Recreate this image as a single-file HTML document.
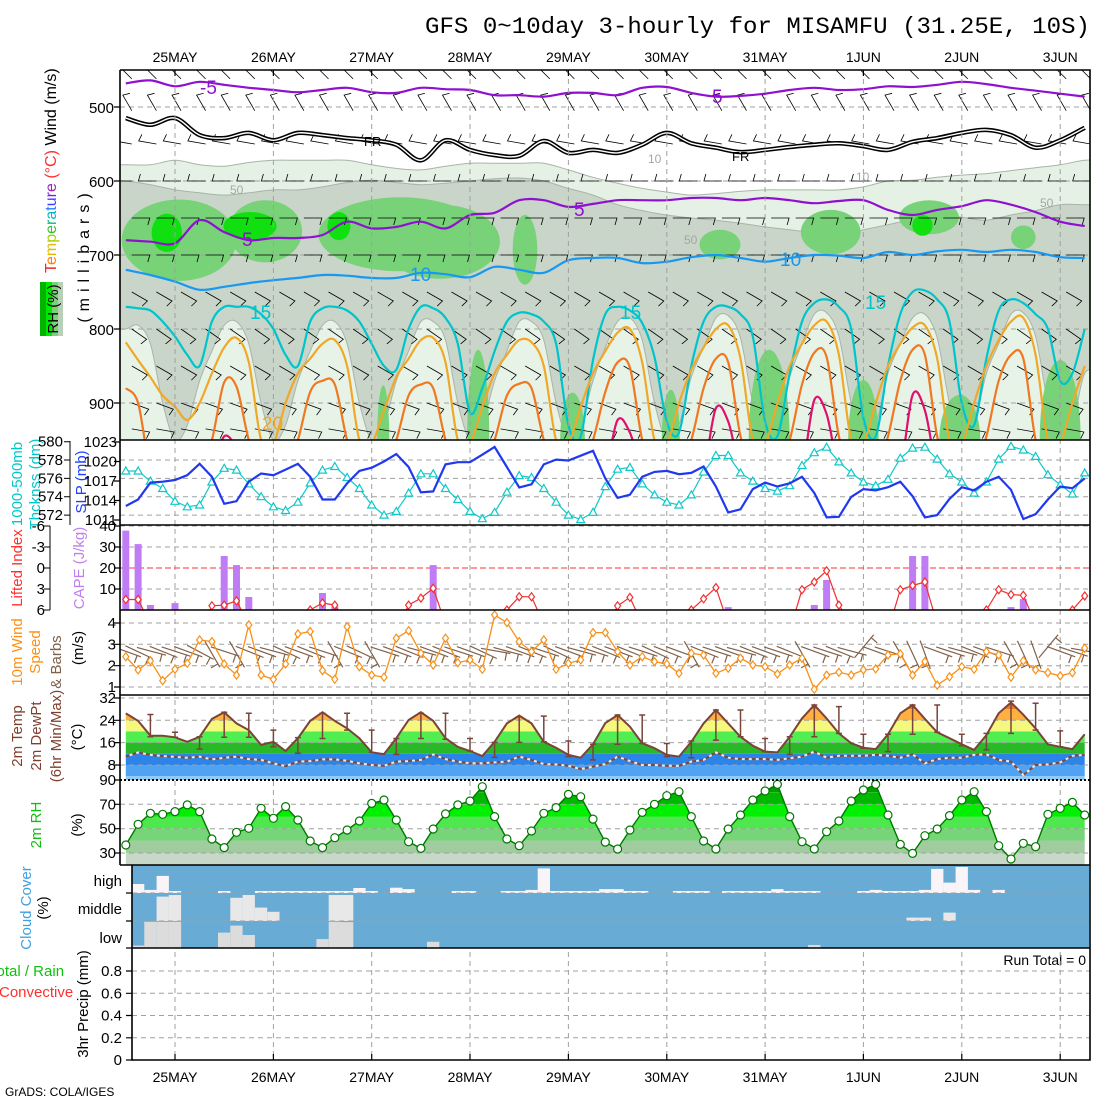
<!DOCTYPE html>
<html><head><meta charset="utf-8">
<style>
body{margin:0;background:#fff;}
svg{display:block;font-family:"Liberation Sans",sans-serif;}
</style></head>
<body>
<svg id="chart" xmlns="http://www.w3.org/2000/svg" width="1100" height="1100" viewBox="0 0 1100 1100">
<rect x="0" y="0" width="1100" height="1100" fill="#ffffff"/>
<defs>
<clipPath id="cTop"><rect x="120" y="70" width="970" height="370"/></clipPath>
<clipPath id="cP2"><rect x="120" y="440" width="970" height="85"/></clipPath>
<clipPath id="cP3"><rect x="120" y="525" width="970" height="85"/></clipPath>
<clipPath id="cP4"><rect x="120" y="610" width="970" height="85"/></clipPath>
<clipPath id="cP5"><rect x="120" y="695" width="970" height="85"/></clipPath>
<clipPath id="cP6"><rect x="120" y="780" width="970" height="85"/></clipPath>
</defs>
<text x="425" y="33" font-family="Liberation Mono, monospace" font-size="23" textLength="665" lengthAdjust="spacingAndGlyphs">GFS 0~10day 3-hourly for MISAMFU (31.25E, 10S)</text>

<text transform="rotate(-90 56 273)" x="56" y="273" font-size="16"><tspan fill="#ff2020">T</tspan><tspan fill="#ff8000">e</tspan><tspan fill="#e8b800">m</tspan><tspan fill="#a8d000">p</tspan><tspan fill="#30c030">e</tspan><tspan fill="#00c080">r</tspan><tspan fill="#00b8c8">a</tspan><tspan fill="#2080ff">t</tspan><tspan fill="#4040ff">u</tspan><tspan fill="#8020e0">r</tspan><tspan fill="#a020c0">e</tspan><tspan fill="#ff3030"> (°C)</tspan><tspan fill="#000"> Wind (m/s)</tspan></text>
<g>
<rect x="40" y="282" width="6" height="54" fill="#00b400"/><rect x="46" y="282" width="6" height="54" fill="#00e800"/><rect x="52" y="282" width="6" height="54" fill="#78d278"/><rect x="58" y="282" width="5" height="54" fill="#b8d0b8"/>
<text transform="rotate(-90 58 309)" x="58" y="309" text-anchor="middle" font-size="15" fill="#000">RH (%)</text>
</g>
<text transform="rotate(-90 89 255)" x="89" y="255" text-anchor="middle" font-size="16" letter-spacing="6">(millibars)</text>
<text transform="rotate(-90 22 484)" x="22" y="484" text-anchor="middle" font-size="15" fill="#00c8c8">1000-500mb</text>
<text transform="rotate(-90 40 484)" x="40" y="484" text-anchor="middle" font-size="15" fill="#00c8c8">Thcknss (dm)</text>
<text transform="rotate(-90 86 482)" x="86" y="482" text-anchor="middle" font-size="15" fill="#2040ff">SLP (mb)</text>
<text transform="rotate(-90 22 568)" x="22" y="568" text-anchor="middle" font-size="15" fill="#ff3030">Lifted Index</text>
<text transform="rotate(-90 84 568)" x="84" y="568" text-anchor="middle" font-size="15" fill="#c080f0">CAPE (J/kg)</text>
<text transform="rotate(-90 22 652)" x="22" y="652" text-anchor="middle" font-size="15" fill="#ff9010">10m Wind</text>
<text transform="rotate(-90 40 652)" x="40" y="652" text-anchor="middle" font-size="15" fill="#ff9010">Speed</text>
<text transform="rotate(-90 61 662)" x="61" y="662" text-anchor="middle" font-size="15" fill="#806048">&amp; Barbs</text>
<text transform="rotate(-90 83 648)" x="83" y="648" text-anchor="middle" font-size="15">(m/s)</text>
<text transform="rotate(-90 22 736)" x="22" y="736" text-anchor="middle" font-size="15" fill="#804030">2m Temp</text>
<text transform="rotate(-90 41 736)" x="41" y="736" text-anchor="middle" font-size="15" fill="#804030">2m DewPt</text>
<text transform="rotate(-90 61 736)" x="61" y="736" text-anchor="middle" font-size="15" fill="#804030">(6hr Min/Max)</text>
<text transform="rotate(-90 82 737)" x="82" y="737" text-anchor="middle" font-size="15">(°C)</text>
<text transform="rotate(-90 41 825)" x="41" y="825" text-anchor="middle" font-size="15" fill="#10c010">2m RH</text>
<text transform="rotate(-90 82 825)" x="82" y="825" text-anchor="middle" font-size="15">(%)</text>
<text transform="rotate(-90 31 908)" x="31" y="908" text-anchor="middle" font-size="15" fill="#40a0e0">Cloud Cover</text>
<text transform="rotate(-90 48 908)" x="48" y="908" text-anchor="middle" font-size="15">(%)</text>
<text x="122" y="886" text-anchor="end" font-size="15">high</text>
<text x="122" y="914" text-anchor="end" font-size="15">middle</text>
<text x="122" y="943" text-anchor="end" font-size="15">low</text>
<text x="-11" y="976" font-size="15" fill="#10c010">Total / Rain</text>
<text x="-1" y="997" font-size="15" fill="#ff3030">Convective</text>
<text transform="rotate(-90 88 1004)" x="88" y="1004" text-anchor="middle" font-size="15">3hr Precip (mm)</text>
<text x="1086" y="965" text-anchor="end" font-size="14">Run Total = 0</text>
<text x="5" y="1096" font-size="12">GrADS: COLA/IGES</text>
</svg>
<script>
// ---------- data ----------
const dayLabels = ['25MAY','26MAY','27MAY','28MAY','29MAY','30MAY','31MAY','1JUN','2JUN','3JUN'];
const presTicks = [500,600,700,800,900];
const thkTicks = [580,578,576,574,572];
const slpTicks = [1023,1020,1017,1014,1011];
const liTicks = [-6,-3,0,3,6];
const capeTicks = [40,30,20,10];
const wsTicks = [4,3,2,1];
const tTicks = [32,24,16,8];
const rhTicks = [90,70,50,30];
const prTicks = [0.8,0.6,0.4,0.2,0];

const isoM5 = [468,464,472,466,470,474,477,480,477,474,480,481,474,476,477,484,484,486,481,481,484,474,473,481,486,485,482,477,474,477,476,472,473,470,466,469,474,478,482,486];
const isoFR = [515,524,515,538,542,535,545,535,538,542,545,551,572,545,558,565,566,546,562,558,562,551,535,549,555,561,558,554,551,549,553,558,547,542,535,531,538,555,545,528];
const iso5 = [680,682,684,653,669,680,677,677,673,655,664,662,655,664,646,643,626,626,635,631,626,626,626,623,623,626,623,626,630,627,626,639,646,639,634,626,632,642,655,661];
const iso10 = [720,727,736,747,743,738,734,731,727,728,731,731,724,726,730,716,720,724,707,704,704,711,709,703,700,704,709,704,700,701,704,696,700,695,693,696,693,696,703,704];
const rh50Top = [578,578,572,578,580,575,572,572,572,572,578,583,585,580,576,576,576,576,585,595,603,610,615,619,617,614,612,612,612,612,608,600,599,595,592,590,586,582,578,572];
const rh70Top = [600,605,612,616,619,616,612,612,608,602,599,602,605,603,600,597,596,600,610,619,632,640,646,650,653,657,662,666,670,673,666,659,652,646,649,653,646,640,632,632];
const iso15 = [770,772,775,790,810,835,850,790, 770,770,770,780,800,835,850,790, 772,770,775,790,820,850,855,800, 770,772,785,820,913,880,830,790, 778,780,790,820,930,945,842,780, 770,775,792,838,925,940,850,790, 770,770,780,810,925,945,860,790, 765,760,770,800,920,945,850,780, 750,748,760,790,900,930,840,775, 760,765,780,800,870,860,800];
const iso20 = [818,842,865,890,905,923,900,860, 825,812,845,950,955,900,860,840, 820,815,850,950,955,910,865,840, 815,812,845,950,955,905,860,835, 815,818,850,950,955,905,860,830, 805,800,845,950,955,900,855,825, 800,795,840,950,955,900,850,820, 795,790,835,950,955,900,850,820, 798,795,840,950,955,900,850,815, 790,785,835,950,955,900,850];
const iso25 = [880,900,990,990,990,990,990,950, 872,878,950,990,990,990,950,885, 870,875,950,990,990,990,950,890, 875,880,950,990,990,990,950,890, 874,880,950,990,990,990,950,885, 845,852,950,990,990,990,950,880, 840,845,945,990,990,990,950,875, 832,838,945,990,990,990,945,870, 828,835,945,990,990,990,945,870, 835,840,950,990,990,990,990];
const iso30 = [990,990,990,990,990,990,990,990, 945,960,990,990,990,990,990,990, 990,990,990,990,990,990,990,990, 990,990,990,990,990,990,990,990, 990,990,990,990,990,990,990,990, 923,940,990,990,990,990,990,990, 907,925,990,990,990,990,990,990, 896,915,990,990,990,990,990,990, 889,910,990,990,990,990,990,990, 990,990,990,990,990,990,990];
const domeTop = [800,795,820,900,950,930,870,830, 795,790,820,900,950,930,870,830, 795,790,820,900,950,930,870,830, 790,790,815,900,950,930,870,830, 790,790,815,900,950,930,870,825, 790,785,815,900,950,930,865,825, 785,782,812,900,950,930,865,820, 780,778,810,900,950,930,860,820, 785,780,812,900,950,930,860,820, 780,778,810,900,950,930,860];
const patchT = [1,22,55,64.7,85.4,133,160,184,207, 50.8,74,97,121,145,168,191.5,216];
const patchP = [680,668,672,682,693,686,669,649,676, 950,950,950,950,950,950,950,950];
const patchDT = [14,9,20,14.6,3,5,7.3,7.3,3, 1.5,2.7,3,2.2,5,3.7,5,5];
const patchDP = [55,42,50,50,47,20,30,23,16, 74,122,64,68,122,81,61,108];
const brightT = [-2,18.3,40,182.4];
const brightP = [670,661,661,660];
const brightDT = [3.7,6.5,2.8,2.5];
const brightDP = [26,19,19,14];
const barbLevels = [462,505,550,600,650,700,750,800,850,900,935];
const barbDir = [315,330,280,270,90,90,120,125,120,110,100];

const thickness = [576.8,576.8,575.7,574.9,573.5,572.9,573.1,575.6,577.1,576.9,575.4,574.0,572.9,572.5,573.4,575.5,576.9,577.3,576.1,574.9,573.1,572.0,572.4,574.4,576.5,576.5,574.9,573.7,572.4,571.6,572.3,574.5,576.3,576.1,574.9,573.4,572.0,571.5,572.3,575.1,577.0,577.2,575.4,574.2,573.4,573.1,574.2,576.7,578.5,578.5,576.6,575.7,574.9,574.6,575.2,577.4,578.8,579.4,577.8,576.6,575.6,575.2,575.9,578.2,579.3,579.4,578.1,576.5,575.6,574.4,575.6,578.1,579.5,579.1,578.4,576.4,575.3,574.3,576.6];
const slp = [1013.15,1014.15,1016.75,1016.9,1017.15,1017.9,1019.65,1017.65,1013.5,1013.9,1016.9,1018.15,1017.9,1018.75,1019.65,1017.65,1014.15,1014.15,1016.65,1018.55,1019.05,1020.0,1021.15,1019.15,1015.25,1015.4,1019.55,1019.9,1019.9,1021.05,1022.25,1019.15,1016.0,1016.5,1019.55,1020.3,1020.15,1020.9,1021.65,1017.4,1014.4,1014.9,1017.65,1018.4,1018.55,1018.05,1018.25,1019.25,1016.15,1012.15,1012.65,1015.75,1016.75,1016.15,1016.65,1017.65,1015.15,1011.4,1011.5,1014.55,1015.75,1015.55,1016.05,1016.9,1014.65,1011.4,1011.75,1014.25,1016.05,1015.55,1016.9,1017.65,1015.65,1011.15,1011.9,1014.15,1016.15,1015.9,1017.4];
const cape = [37.8,31.4,2.4,0,3.3,0,0,0,25.7,21.4,6.2,0,0,0,0,0,8.1,1.6,0,0,0,0,0,0,0,21.4,0,0,0,0,0,0,0,0,0,0,0,0,0,0,0,0,0,0,0,0,0,0,0,1.4,0,0,0,0,0,0,2.4,14.3,0,0,0,0,0,0,25.7,25.7,0,0,0,0,0,0,1.4,5.2,0,0,0,0,0];
const liftedIndex = [4.5,4.5,8,9,9,9,9,5.4,5.3,4.7,8,9,9,9,9,6,5.0,5.3,8,9,9,9,9,5.3,4.3,2.9,8,9,9,9,9,6,4.1,4.1,8,9,9,9,9,9,5.4,4.2,8,9,9,9,6,4.4,2.8,8,9,9,9,9,9,3.1,2.0,0.4,5.3,8,9,9,9,3.1,2.5,2.0,8,9,9,9,6,3.1,3.8,3.9,8,9,9,6,4];
const windSpeed = [2.42,1.80,2.23,1.30,1.83,2.11,3.21,3.13,2.08,1.56,3.91,1.56,1.36,2.08,3.49,3.60,1.77,1.36,3.83,1.95,1.56,1.46,3.29,3.64,2.58,2.03,3.29,2.14,2.27,1.83,4.38,4.02,3.13,2.66,3.21,1.83,2.11,2.27,3.55,3.55,2.66,2.03,2.42,2.19,2.08,1.64,2.58,2.50,1.64,1.88,2.35,2.03,1.95,1.61,2.03,2.35,0.89,1.56,1.69,1.56,1.80,1.85,2.50,2.55,1.56,2.19,1.09,1.48,1.95,1.83,2.66,2.50,1.46,2.23,1.80,1.67,1.52,1.67,2.82];
const windDir10 = [110,115,105,112,108,110,118,150,108,150,112,110,105,115,110,112,108,150,112,115,150,108,110,112,105,110,112,108,110,115,100,105,110,112,108,115,110,105,108,112,110,112,108,115,112,110,150,112,108,110,105,112,110,108,112,150,110,108,112,105,40,110,108,150,155,160,110,108,105,112,110,108,150,155,160,40,110,108,100];
const temp2m = [26.5,23.8,18.5,18.5,17.9,16.3,18.1,24.5,26.9,22.9,20.5,15.2,16.3,13.0,17.6,23.8,26.9,23.8,21.1,17.6,12.5,11.9,17.6,24.1,26.9,23.8,17.6,14.5,13.0,11.2,16.3,22.9,25.7,22.9,16.3,14.2,11.6,10.6,15.4,23.0,25.9,21.7,15.8,14.0,11.6,11.0,16.3,22.9,27.7,22.9,18.1,14.9,12.8,12.5,18.1,24.7,29.5,24.7,19.3,15.8,14.2,13.7,19.0,26.5,29.5,24.5,19.7,17.6,15.4,13.4,18.7,26.5,30.4,26.0,21.1,15.4,14.5,13.7,19.0];
const dew2m = [11.0,12.5,11.6,11.2,10.9,10.6,11.0,10.0,10.6,11.0,10.1,9.8,8.6,7.6,9.2,9.4,10.0,10.0,9.5,8.6,8.0,7.7,9.2,9.4,9.8,11.8,10.1,9.2,8.6,8.6,8.9,9.2,11.0,9.8,8.3,8.2,7.7,6.5,7.4,8.3,11.0,9.4,8.0,8.0,7.7,7.7,9.2,9.8,12.5,10.6,10.1,10.1,10.1,9.8,10.4,11.0,12.8,10.6,11.3,11.3,11.3,11.6,11.3,10.6,11.8,8.6,10.1,10.6,10.6,11.6,11.8,9.8,9.2,4.4,8.0,8.2,8.9,11.3,11.6];
const tMax6 = [null,26.1,19.7,18.1,26.9,26.5,20.5,17.8,26.5,26.5,20.5,17.5,26.5,26.5,17.5,16.1,25.3,25.5,16.6,15.4,25.9,25.9,15.7,16.6,27.7,27.7,17.5,18.1,29.5,28.9,19.0,19.0,29.5,29.5,19.0,19.3,30.9,30.1,20.2,null];
const tMin6 = [null,18.1,17.9,13.7,17.9,17.9,14.5,12.2,17.5,20.5,12.5,11.8,17.5,17.2,13.0,10.7,16.1,16.3,11.0,9.8,15.4,15.7,11.0,10.6,16.9,18.1,12.8,11.8,18.1,19.3,14.0,12.8,19.0,19.7,14.9,13.4,19.3,20.5,14.5,null];
const rh2m = [36.6,53.6,62.6,61.8,64.0,69.5,64.0,41.5,34.4,47.0,50.3,66.7,58.5,68.1,57.1,39.9,34.4,42.6,48.9,56.3,70.8,73.6,57.1,39.3,33.8,49.7,62.1,69.5,72.7,84.5,59.9,41.5,36.0,48.1,62.6,67.3,78.2,76.3,57.9,39.0,33.3,48.9,63.4,70.0,77.1,80.4,59.9,39.9,33.3,49.7,61.2,73.6,81.0,86.4,59.9,39.3,33.3,47.5,56.3,72.7,81.8,86.4,61.2,37.1,29.7,44.2,49.7,60.7,73.6,80.4,64.0,36.0,25.1,38.0,35.2,61.8,66.7,71.6,61.2];
const cloudHigh = [0,32,11,61,7,0,0,0,7,0,0,7,7,7,7,7,7,7,7,18,7,0,19,14,0,0,0,7,7,0,0,7,7,11,88,7,7,7,7,14,14,7,7,0,0,7,7,7,0,7,7,7,7,14,7,7,7,0,0,0,7,11,7,7,7,11,86,37,93,11,0,11,0,0,0,0,0,0,0];
const cloudMid = [0,0,0,87,93,0,0,0,0,83,93,48,33,0,0,0,0,93,93,0,0,0,0,0,0,0,0,0,0,0,0,0,0,0,0,0,0,0,0,0,0,0,0,0,0,0,0,0,0,0,0,0,0,0,0,0,0,0,0,0,0,0,0,0,12,12,0,30,0,0,0,0,0,0,0,0,0,0,0];
const cloudLow = [0,9,97,97,97,0,0,0,57,83,48,0,0,0,0,0,33,97,96,0,0,0,0,0,0,23,0,0,0,0,0,0,0,0,0,0,0,0,0,0,0,0,0,0,0,0,0,0,0,0,0,0,0,0,0,0,11,0,0,0,0,0,0,0,0,0,0,0,0,0,0,0,0,0,0,0,0,0,0];

// ---------- scales ----------
const PXH = 98.35/24;
function xT(t){return 175+t*PXH;}
function xI(i){return xT(-12+3*i);}
function xJ(j){return xT(-12+6*j);}
function yP(p){return 107+(p-500)*0.74;}
function yThk(v){return 441.7+(580-v)*9.17;}
function ySLP(v){return 442+(1023-v)*6.5;}
function yCape(v){return 610-v*2.1;}
function yLI(v){return 568+v*7;}
function yWS(v){return 687-(v-1)*21.33;}
function yTmp(v){return 698+(32-v)*2.79;}
function yRH(v){return 780+(90-v)*1.2167;}

const svg=document.getElementById('chart');
const NS='http://www.w3.org/2000/svg';
function mk(tag,attrs,parent){const e=document.createElementNS(NS,tag);for(const k in attrs)e.setAttribute(k,attrs[k]);(parent||svg).appendChild(e);return e;}
function f(n){return (+n).toFixed(1);}
function smoothD(pts){let d='M'+f(pts[0][0])+','+f(pts[0][1]);for(let k=0;k<pts.length-1;k++){const p0=pts[k-1]||pts[k],p1=pts[k],p2=pts[k+1],p3=pts[k+2]||p2;d+=' C'+f(p1[0]+(p2[0]-p0[0])/6)+','+f(p1[1]+(p2[1]-p0[1])/6)+' '+f(p2[0]-(p3[0]-p1[0])/6)+','+f(p2[1]-(p3[1]-p1[1])/6)+' '+f(p2[0])+','+f(p2[1]);}return d;}
function lineD(pts){return 'M'+pts.map(p=>f(p[0])+','+f(p[1])).join(' L');}

// ---------- top panel ----------
const gTop=mk('g',{'clip-path':'url(#cTop)'});


function regionFromTop(arr,xf,fill,name){
  const pts=arr.map((p,j)=>[xf(j),yP(p)]);
  pts.unshift([110,pts[0][1]]);pts.push([1100,pts[pts.length-1][1]]);
  const e=mk('path',{d:smoothD(pts)+' L1100,460 L110,460 Z',fill:fill,stroke:'#a8b4a8','stroke-width':1},gTop);
  
  
}
regionFromTop(rh50Top,xJ,'#e6f1e6','rh-50-region');
regionFromTop(rh70Top,xJ,'#c8d5c8','rh-70-region');
regionFromTop(domeTop,xI,'#e8f3e8','low-rh-domes');
for(let k=0;k<patchT.length;k++){
  const e=mk('ellipse',{cx:f(xT(patchT[k])),cy:f(yP(patchP[k])),rx:f(patchDT[k]*PXH),ry:f(patchDP[k]*0.74),fill:'#78d278'},gTop);
  
  
}
for(let k=0;k<brightT.length;k++){
  const e=mk('ellipse',{cx:f(xT(brightT[k])),cy:f(yP(brightP[k])),rx:f(brightDT[k]*PXH),ry:f(brightDP[k]*0.74),fill:'#10e010'},gTop);
  
  
}
presTicks.forEach(p=>{
  const e=mk('line',{x1:120,x2:1090,y1:f(yP(p)),y2:f(yP(p)),stroke:'#a0a0a0','stroke-dasharray':'5,4'},gTop);
  
  
});
for(let j=0;j<40;j++){
  for(let l=0;l<barbLevels.length;l++){
    const x=xJ(j)+6,y=yP(barbLevels[l]);
    const a=barbDir[l]*Math.PI/180,vx=Math.sin(a),vy=-Math.cos(a);
    const ex=x+vx*18,ey=y+vy*18;
    const e=mk('path',{d:'M'+f(x)+','+f(y)+' L'+f(ex)+','+f(ey)+' L'+f(ex-vy*7+vx*-2)+','+f(ey+vx*7+vy*-2),stroke:'#000','stroke-width':0.8,fill:'none'},gTop);
    
    
  }
}
function iso(arr,xf,color,w,name){
  const e=mk('path',{d:smoothD(arr.map((p,j)=>[xf(j),yP(p)])),stroke:color,'stroke-width':w,fill:'none'},gTop);
  
  
}
iso(isoM5,xJ,'#9010d0',2.2,'isotherm-minus5');
iso(isoFR,xJ,'#000',4.5,'freezing-level');
iso(isoFR,xJ,'#fff',1.4,'freezing-level-inner');
iso(iso5,xJ,'#9010d0',2.2,'isotherm-5');
iso(iso10,xJ,'#1898f0',2.2,'isotherm-10');
iso(iso15,xI,'#00c4cc',2.2,'isotherm-15');
iso(iso20,xI,'#f0a828',2.2,'isotherm-20');
iso(iso25,xI,'#f07820',2.2,'isotherm-25');
iso(iso30,xI,'#e0106e',2.2,'isotherm-30');
const isoLabels=[['-5',200,94,'#9010d0',19],['5',712,103,'#9010d0',19],['FR',364,146,'#000',13],['FR',732,161,'#000',13],['5',574,216,'#9010d0',19],['5',242,246,'#9010d0',19],['10',410,281,'#1898f0',19],['10',780,266,'#1898f0',19],['15',250,319,'#00c4cc',19],['15',620,319,'#00c4cc',19],['15',865,309,'#00c4cc',19],['20',262,430,'#f0a828',19],['50',230,194,'#a0a8a0',12],['50',684,244,'#a0a8a0',12],['50',1040,207,'#a0a8a0',12],['10',648,163,'#a0a8a0',12],['10',856,181,'#a0a8a0',12]];
isoLabels.forEach(L=>{
  const e=mk('text',{x:L[1],y:L[2],fill:L[3],'font-size':L[4]},gTop);
  e.textContent=L[0];
  
  
});

for(let d=0;d<dayLabels.length;d++){
  const x=xT(24*d);
  const e=mk('line',{x1:f(x),x2:f(x),y1:70,y2:1060,stroke:'#a0a0a0','stroke-dasharray':'5,4'});
  
  
  const t1=mk('text',{x:f(x),y:62,'text-anchor':'middle','font-size':14});
  t1.textContent=dayLabels[d];
  
  
  const t2=mk('text',{x:f(x),y:1082,'text-anchor':'middle','font-size':14});
  t2.textContent=dayLabels[d];
  
  
}
presTicks.forEach(p=>{
  const t=mk('text',{x:114,y:f(yP(p)+6),'text-anchor':'end','font-size':15});
  t.textContent=p;
  
  
});

function hgrid(y,x1,name,color,dash){
  const e=mk('line',{x1:x1||120,x2:1090,y1:f(y),y2:f(y),stroke:color||'#a0a0a0','stroke-dasharray':dash||'5,4'});
  
  
}
function tickLabel(txt,x,y,name){
  const t=mk('text',{x:x,y:f(y+5),'text-anchor':'end','font-size':15});
  t.textContent=txt;
  
  
}

// ---------- panel 2 ----------
thkTicks.forEach((v,k)=>{ if(k>0) hgrid(yThk(v),120,'thickness-gridline'); tickLabel(v,63,yThk(v),'thickness-tick-label'); });
slpTicks.forEach(v=>tickLabel(v,117,ySLP(v),'slp-tick-label'));
{
  const ax=mk('path',{d:'M70,441 V525 M64,'+thkTicks.map(v=>f(yThk(v))+' H70 M64,').join('')+'441',stroke:'#000',fill:'none'});
  
  
}
const g2=mk('g',{'clip-path':'url(#cP2)'});


{
  const e=mk('path',{d:lineD(thickness.map((v,i)=>[xI(i),yThk(v)])),stroke:'#10c8c8','stroke-width':1.2,fill:'none'},g2);
  
  
  thickness.forEach((v,i)=>{
    const x=xI(i),y=yThk(v);
    const m=mk('path',{d:'M'+f(x-4)+','+f(y+3)+' L'+f(x+4)+','+f(y+3)+' L'+f(x)+','+f(y-4)+' Z',stroke:'#10c8c8','stroke-width':1.2,fill:'#fff'},g2);
    
    
  });
  const s=mk('path',{d:lineD(slp.map((v,i)=>[xI(i),ySLP(v)])),stroke:'#2038f0','stroke-width':2.2,fill:'none'},g2);
  
  
}

// ---------- panel 3 ----------
capeTicks.forEach(v=>{ if(v!==20) hgrid(yCape(v),120,'cape-gridline'); tickLabel(v,116,yCape(v),'cape-tick-label'); });
hgrid(yLI(0),120,'li-zero-line','#ff3030','6,3');
liTicks.forEach(v=>tickLabel(v,45,yLI(v),'li-tick-label'));
{
  const ax=mk('path',{d:'M50,526 V610 M44,'+liTicks.map(v=>f(yLI(v))+' H50 M44,').join('')+'526',stroke:'#000',fill:'none'});
  
  
}
const g3=mk('g',{'clip-path':'url(#cP3)'});


cape.forEach((v,i)=>{
  if(v<=0) return;
  const b=mk('rect',{x:f(xI(i)-3.5),y:f(yCape(v)),width:7,height:f(v*2.1),fill:'#c07cf4'},g3);
  
  
});
{
  const e=mk('path',{d:lineD(liftedIndex.map((v,i)=>[xI(i),yLI(v)])),stroke:'#f03030','stroke-width':1.2,fill:'none'},g3);
  
  
  liftedIndex.forEach((v,i)=>{
    if(v>6.5) return;
    const x=xI(i),y=yLI(v);
    const m=mk('path',{d:'M'+f(x)+','+f(y-4)+' L'+f(x+3)+','+f(y)+' L'+f(x)+','+f(y+4)+' L'+f(x-3)+','+f(y)+' Z',stroke:'#f03030','stroke-width':1.2,fill:'#fff'},g3);
    
    
  });
}

// ---------- panel 4 ----------
wsTicks.forEach(v=>{ hgrid(yWS(v),120,'wind-gridline'); tickLabel(v,116,yWS(v),'wind-tick-label'); });
const g4=mk('g',{'clip-path':'url(#cP4)'});


windDir10.forEach((d,i)=>{
  const a=d*Math.PI/180,vx=Math.sin(a),vy=-Math.cos(a);
  const x=xI(i)-vx*14,y=650-vy*10;
  const ex=x+vx*30,ey=y+vy*30;
  const b=mk('path',{d:'M'+f(x)+','+f(y)+' L'+f(ex)+','+f(ey)+' M'+f(ex-vx*4)+','+f(ey-vy*4)+' L'+f(ex-vx*4-vy*8)+','+f(ey-vy*4+vx*8),stroke:'#806048','stroke-width':1.2,fill:'none'},g4);
  
  
});
{
  const e=mk('path',{d:lineD(windSpeed.map((v,i)=>[xI(i),yWS(v)])),stroke:'#f89018','stroke-width':1.3,fill:'none'},g4);
  
  
  windSpeed.forEach((v,i)=>{
    const x=xI(i),y=yWS(v);
    const m=mk('path',{d:'M'+f(x)+','+f(y-4)+' L'+f(x+3)+','+f(y)+' L'+f(x)+','+f(y+4)+' L'+f(x-3)+','+f(y)+' Z',stroke:'#f89018','stroke-width':1.2,fill:'#fff'},g4);
    
    
  });
}

// ---------- panel 5 ----------
const defs=svg.querySelector('defs');
{
  const cp=mk('clipPath',{id:'tArea'},defs);
  const pts=temp2m.map((v,i)=>[xI(i),yTmp(v)]);
  mk('path',{d:lineD(pts)+' L'+f(xI(78))+',780 L'+f(xI(0))+',780 Z'},cp);
  const cp2=mk('clipPath',{id:'rArea'},defs);
  const pr=rh2m.map((v,i)=>[xI(i),yRH(v)]);
  mk('path',{d:lineD(pr)+' L'+f(xI(78))+',865 L'+f(xI(0))+',865 Z'},cp2);
}
const g5=mk('g',{'clip-path':'url(#cP5)'});


const tBands=[[40,28,'#f07a28'],[28,24,'#ffb040'],[24,20,'#f4f87c'],[20,16,'#50ee50'],[16,12,'#28b828'],[12,8,'#2a84ea'],[8,4,'#50a2f2'],[4,-10,'#8ccaf8']];
const gTB=mk('g',{'clip-path':'url(#tArea)'},g5);


tBands.forEach(b=>{
  const r=mk('rect',{x:120,y:f(yTmp(b[0])),width:970,height:f(yTmp(b[1])-yTmp(b[0])),fill:b[2]},gTB);
  
  
});
tTicks.forEach(v=>{ tickLabel(v,116,yTmp(v),'temp-tick-label'); });
{
  const gg=mk('g',{},g5);
  tTicks.forEach(v=>{const e=mk('line',{x1:120,x2:1090,y1:f(yTmp(v)),y2:f(yTmp(v)),stroke:'#a0a0a0','stroke-dasharray':'5,4'},gg);
  
  });
  const dp=dew2m.map((v,i)=>[xI(i),yTmp(v)]);
  const dw=mk('path',{d:lineD(dp),stroke:'#e8e8f0','stroke-width':2,fill:'none'},g5);
  
  
  const dd=mk('path',{d:lineD(dp),stroke:'#804838','stroke-width':2.2,'stroke-dasharray':'4,3',fill:'none'},g5);
  
  
  const tl=mk('path',{d:lineD(temp2m.map((v,i)=>[xI(i),yTmp(v)])),stroke:'#7a4438','stroke-width':2,fill:'none'},g5);
  
  
  tMax6.forEach((mx,k)=>{
    const mn=tMin6[k]; if(mx===null||mn===null) return;
    const x=xI(2*k),y1=yTmp(mx),y2=yTmp(mn);
    const b=mk('path',{d:'M'+f(x)+','+f(y1)+' V'+f(y2)+' M'+f(x-3)+','+f(y1)+' H'+f(x+3)+' M'+f(x-3)+','+f(y2)+' H'+f(x+3),stroke:'#7a4438','stroke-width':1.5,fill:'none'},g5);
    
    
  });
}

// ---------- panel 6 ----------
const g6=mk('g',{'clip-path':'url(#cP6)'});


const rBands=[[100,80,'#009c00'],[80,70,'#00b800'],[70,60,'#00f000'],[60,50,'#4ee84e'],[50,40,'#78d478'],[40,30,'#a0cca0'],[30,0,'#c8d8c8']];
const gRB=mk('g',{'clip-path':'url(#rArea)'},g6);


rBands.forEach(b=>{
  const r=mk('rect',{x:120,y:f(yRH(b[0])),width:970,height:f(yRH(b[1])-yRH(b[0])),fill:b[2]},gRB);
  
  
});
rhTicks.forEach(v=>{
  if(v!==90){const e=mk('line',{x1:120,x2:1090,y1:f(yRH(v)),y2:f(yRH(v)),stroke:'#a0a0a0','stroke-dasharray':'5,4'},g6);
  
  }
  tickLabel(v,116,yRH(v),'rh-tick-label');
});
{
  const rl=mk('path',{d:lineD(rh2m.map((v,i)=>[xI(i),yRH(v)])),stroke:'#007800','stroke-width':1.4,fill:'none'},g6);
  
  
  rh2m.forEach((v,i)=>{
    const c=mk('circle',{cx:f(xI(i)),cy:f(yRH(v)),r:4,fill:'#fff',stroke:'#007800','stroke-width':1.2},g6);
    
    
  });
}

// ---------- panel 7 ----------
{
  const bg=mk('rect',{x:132,y:865,width:957,height:83,fill:'#68abd4'});
  
  
  const rows=[[cloudHigh,893,28,'#f8f4f8','high-cloud-bar'],[cloudMid,921,28,'#e8e8e8','mid-cloud-bar'],[cloudLow,948,27,'#dcdcdc','low-cloud-bar']];
  rows.forEach(R=>{
    R[0].forEach((v,i)=>{
      if(v<=0) return;
      const h=v/100*R[2];
      const b=mk('rect',{x:f(Math.max(132,xI(i)-6.15)),y:f(R[1]-h),width:12.3,height:f(h),fill:R[3]});
      
      
    });
  });
  [893,921].forEach(y=>hgrid(y,132,'cloud-gridline'));
}

// ---------- panel 8 ----------
prTicks.forEach(v=>{
  const y=1060-v*111.25;
  if(v>0) hgrid(y,132,'precip-gridline');
  tickLabel(v,122,y,'precip-tick-label');
});

// ---------- frames ----------
{
  const fr=mk('path',{d:'M120,70 H1090 V948 M120,70 V865 M132,865 V1060 H1090 V948 M120,440 H1090 M120,525 H1090 M120,610 H1090 M120,695 H1090 M120,865 H1090 M132,948 H1090',stroke:'#000','stroke-width':1.6,fill:'none'});
  
  
  const dot=mk('line',{x1:120,x2:1090,y1:780,y2:780,stroke:'#000','stroke-width':2,'stroke-dasharray':'2,2'});
  
  
  let tk='';
  presTicks.forEach(p=>{tk+='M114,'+f(yP(p))+' H120 ';});
  slpTicks.forEach(v=>{tk+='M114,'+f(ySLP(v))+' H120 ';});
  capeTicks.forEach(v=>{tk+='M114,'+f(yCape(v))+' H120 ';});
  wsTicks.forEach(v=>{tk+='M114,'+f(yWS(v))+' H120 ';});
  tTicks.forEach(v=>{tk+='M114,'+f(yTmp(v))+' H120 ';});
  rhTicks.forEach(v=>{tk+='M114,'+f(yRH(v))+' H120 ';});
  [893,921,948].forEach(y=>{tk+='M126,'+y+' H132 ';});
  prTicks.forEach(v=>{tk+='M126,'+f(1060-v*111.25)+' H132 ';});
  for(let d=0;d<dayLabels.length;d++){const x=xT(24*d);tk+='M'+f(x)+',70 V76 M'+f(x)+',1060 V1054 ';}
  const t=mk('path',{d:tk,stroke:'#000','stroke-width':1.2,fill:'none'});
  
  
}
</script>
</body></html>
